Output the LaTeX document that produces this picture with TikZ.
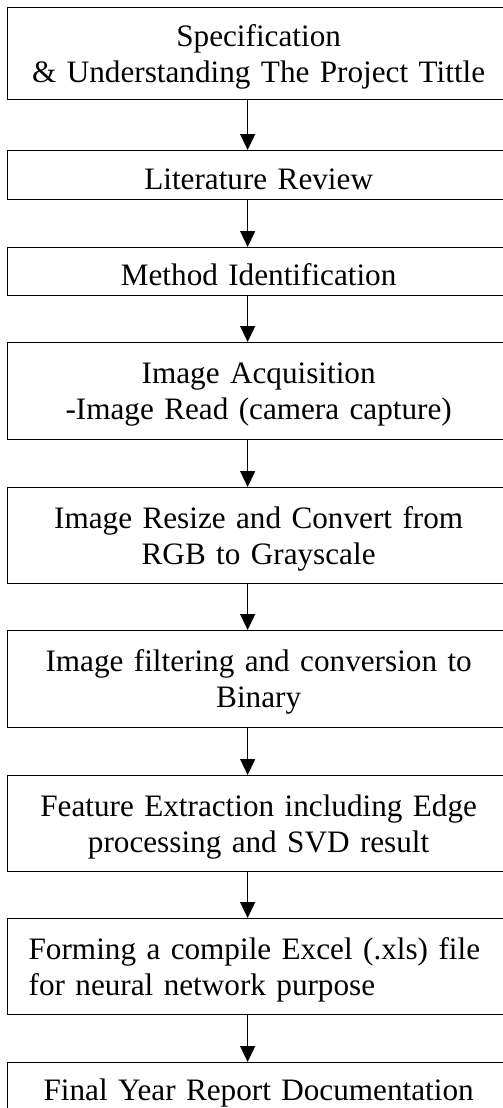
\documentclass[tikz,border=0pt]{standalone}
\usepackage{fontspec}
\setmainfont{Liberation Serif}
\usetikzlibrary{arrows.meta}
\begin{document}
\begin{tikzpicture}[x = 1pt, y = 1pt, line width = 1.3pt,
		stage/.style = {draw, anchor = north west, minimum width = 502pt, inner xsep = 21pt, inner ysep = 0pt, text width = 460pt, align = center, text height = 28pt, font = \fontsize{31.2}{36}\selectfont},
		flow/.style = {-{Triangle[width = 15pt, length = 16pt]}}]
			\useasboundingbox (0,0) rectangle (503,-1108);
			\node[stage, minimum height = 92pt] (spec) at (7,-7) {Specification\\\& Understanding The Project Tittle};
			\node[stage, minimum height = 49pt, text depth = 0pt] (lit) at (7,-150) {Literature Review};
			\node[stage, minimum height = 48pt, text depth = 0pt] (method) at (7,-247) {Method Identification};
			\node[stage, minimum height = 97pt] (acq) at (7,-342) {Image Acquisition\\-Image Read (camera capture)};
			\node[stage, minimum height = 96pt] (gray) at (7,-487) {Image Resize and Convert from\\RGB to Grayscale};
			\node[stage, minimum height = 97pt] (binary) at (7,-630) {Image filtering and conversion to\\Binary};
			\node[stage, minimum height = 96pt] (feature) at (7,-775) {Feature Extraction including Edge\\processing and SVD result};
			\node[stage, minimum height = 96pt, align = left] (excel) at (7,-918) {Forming a compile Excel (.xls) file\\for neural network purpose};
			\node[stage, minimum height = 48pt, text depth = 0pt] (report) at (7,-1062) {Final Year Report Documentation};
			\foreach \a/\b in {spec/lit, lit/method, method/acq, acq/gray, gray/binary, binary/feature, feature/excel, excel/report}
				\draw[flow] ([xshift = -11pt]\a.south) -- ([xshift = -11pt]\b.north);
\end{tikzpicture}
\end{document}
